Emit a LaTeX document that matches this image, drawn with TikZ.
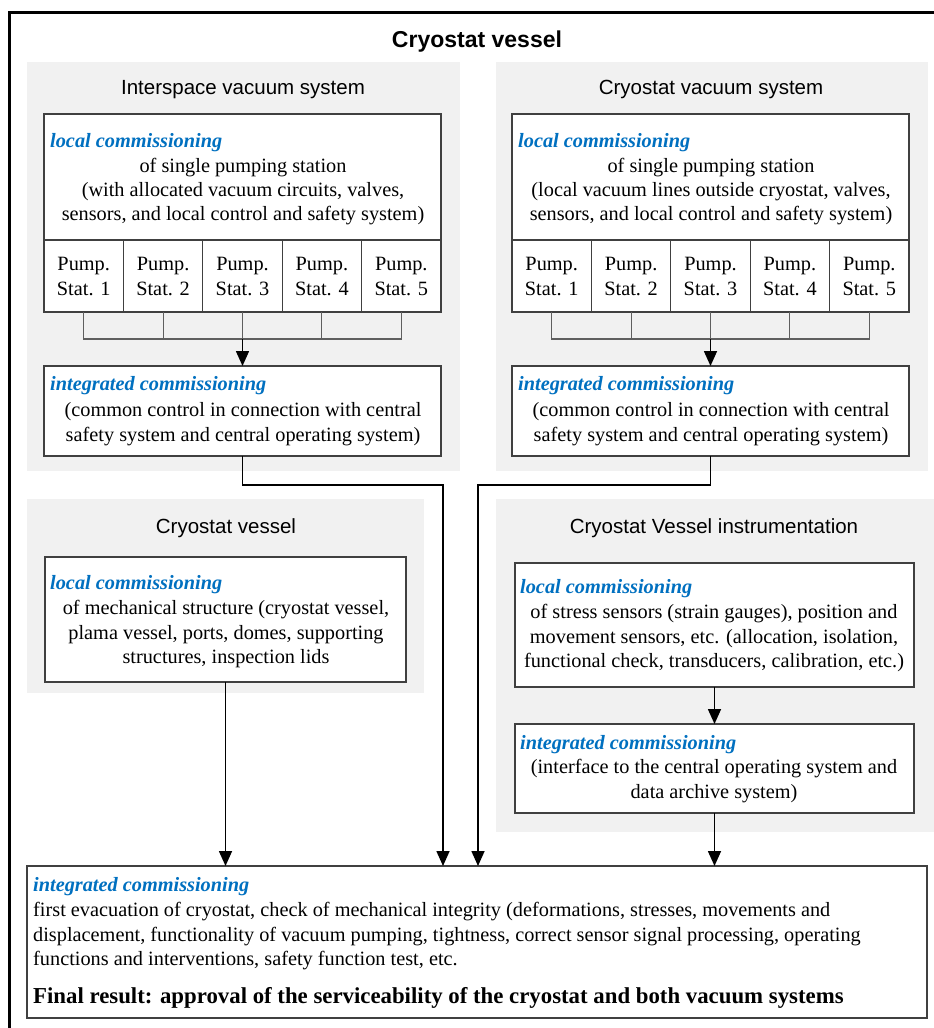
\documentclass[tikz,border=0pt]{standalone}
\usepackage{fontspec}
\setmainfont{Liberation Serif}
\setsansfont{Liberation Sans}
\usetikzlibrary{arrows.meta}
\definecolor{panelgray}{RGB}{241,241,241}
\definecolor{headblue}{RGB}{0,112,192}
\definecolor{boxline}{RGB}{64,64,64}
\definecolor{busline}{RGB}{95,95,95}
\begin{document}
\begin{tikzpicture}[x=1pt,y=-1pt,
 cpanel/.style={fill=panelgray, draw=none},
 cbox/.style={draw=boxline, fill=white, line width=1.1pt, inner sep=0pt, outer sep=0pt, anchor=north west},
 ccell/.style={cbox, minimum width=79.4pt, minimum height=72pt, align=center, font=\fontsize{20.3}{25}\selectfont, anchor=north west},
 chead/.style={anchor=base west, inner sep=0pt, text=headblue, font=\fontsize{20.3}{24}\selectfont\bfseries\itshape},
 cbody/.style={anchor=base, inner sep=0pt, font=\fontsize{20.3}{24}\selectfont},
 cbodyl/.style={cbody, anchor=base west},
 ptitle/.style={anchor=base, inner sep=0pt, font=\sffamily\fontsize{20.5}{24}\selectfont},
 cconn/.style={line width=1.6pt, draw=black},
 carr/.style={cconn, -{Triangle[length=15pt,width=13pt]}},
 cbus/.style={line width=1.1pt, draw=busline}]
\useasboundingbox (0,0) rectangle (934,1028);
\clip (0,0) rectangle (934,1028);
% outer frame
\draw[line width=3pt] (9,12) rectangle (1000,1100);
\node[anchor=base, inner sep=0pt, font=\sffamily\bfseries\fontsize{23}{27}\selectfont] (title) at (477,47) {Cryostat vessel};
% panels
\fill[cpanel] (27,62) rectangle (460,471);
\fill[cpanel] (496,62) rectangle (928,471);
\fill[cpanel] (27,499) rectangle (424,693);
\fill[cpanel] (496,499) rectangle (934,832);
\node[ptitle] (t1) at (243,94) {Interspace vacuum system};
\node[ptitle] (t2) at (711,94) {Cryostat vacuum system};
\node[ptitle] (t3) at (226,533) {Cryostat vessel};
\node[ptitle] (t4) at (714,533) {Cryostat Vessel instrumentation};
% ---------- left upper
\node[cbox, minimum width=397pt, minimum height=126pt] (L1) at (44,114) {};
\node[chead] (L1h) at (50,147) {local commissioning};
\node[cbody] (L1a) at (243,172) {of single pumping station};
\node[cbody] (L1b) at (243,196) {(with allocated vacuum circuits, valves,};
\node[cbody] (L1c) at (243,220) {sensors, and local control and safety system)};
\node[ccell] (A1) at (44,240) {Pump.\\Stat. 1};
\node[ccell] (A2) at (123.4,240) {Pump.\\Stat. 2};
\node[ccell] (A3) at (202.8,240) {Pump.\\Stat. 3};
\node[ccell] (A4) at (282.2,240) {Pump.\\Stat. 4};
\node[ccell] (A5) at (361.6,240) {Pump.\\Stat. 5};
\node[cbox, minimum width=397pt, minimum height=90pt] (I1) at (44,366) {};
\node[chead] (I1h) at (50,390) {integrated commissioning};
\node[cbody] (I1a) at (243,416) {(common control in connection with central};
\node[cbody] (I1b) at (243,441) {safety system and central operating system)};
\coordinate (ba) at (0,339);
\draw[cbus] (A1.south) -- (A1.south |- ba) -- (A5.south |- ba) -- (A5.south);
\draw[cbus] (A2.south) -- (A2.south |- ba);
\draw[cbus] (A4.south) -- (A4.south |- ba);
\draw[cbus] (A3.south) -- (A3.south |- ba);
\draw[carr] (A3.south |- ba) -- (I1.north);
% ---------- right upper
\node[cbox, minimum width=397pt, minimum height=126pt] (L2) at (512,114) {};
\node[chead] (L2h) at (518,147) {local commissioning};
\node[cbody] (L2a) at (711,172) {of single pumping station};
\node[cbody] (L2b) at (711,196) {(local vacuum lines outside cryostat, valves,};
\node[cbody] (L2c) at (711,220) {sensors, and local control and safety system)};
\node[ccell] (B1) at (512,240) {Pump.\\Stat. 1};
\node[ccell] (B2) at (591.4,240) {Pump.\\Stat. 2};
\node[ccell] (B3) at (670.8,240) {Pump.\\Stat. 3};
\node[ccell] (B4) at (750.2,240) {Pump.\\Stat. 4};
\node[ccell] (B5) at (829.6,240) {Pump.\\Stat. 5};
\node[cbox, minimum width=397pt, minimum height=90pt] (I2) at (512,366) {};
\node[chead] (I2h) at (518,390) {integrated commissioning};
\node[cbody] (I2a) at (711,416) {(common control in connection with central};
\node[cbody] (I2b) at (711,441) {safety system and central operating system)};
\draw[cbus] (B1.south) -- (B1.south |- ba) -- (B5.south |- ba) -- (B5.south);
\draw[cbus] (B2.south) -- (B2.south |- ba);
\draw[cbus] (B4.south) -- (B4.south |- ba);
\draw[cbus] (B3.south) -- (B3.south |- ba);
\draw[carr] (B3.south |- ba) -- (I2.north);
% ---------- left lower
\node[cbox, minimum width=361pt, minimum height=125pt] (L3) at (45,557) {};
\node[chead] (L3h) at (50,589) {local commissioning};
\node[cbody] (L3a) at (226,614) {of mechanical structure (cryostat vessel,};
\node[cbody] (L3b) at (226,639) {plama vessel, ports, domes, supporting};
\node[cbody] (L3c) at (226,663) {structures, inspection lids};
% ---------- right lower
\node[cbox, minimum width=399pt, minimum height=124pt] (L4) at (515,563) {};
\node[chead] (L4h) at (520,593) {local commissioning};
\node[cbody] (L4a) at (714,618) {of stress sensors (strain gauges), position and};
\node[cbody] (L4b) at (714,643) {movement sensors, etc. (allocation, isolation,};
\node[cbody] (L4c) at (714,667) {functional check, transducers, calibration, etc.)};
\node[cbox, minimum width=399pt, minimum height=89pt] (I4) at (515,724) {};
\node[chead] (I4h) at (520,749) {integrated commissioning};
\node[cbody] (I4a) at (714,773) {(interface to the central operating system and};
\node[cbody] (I4b) at (714,798) {data archive system)};
\draw[carr] (L4.south) -- (I4.north);
% ---------- final
\node[cbox, minimum width=900pt, minimum height=152pt] (F) at (27,866) {};
\node[chead] (Fh) at (33,891) {integrated commissioning};
\node[cbodyl] (Fa) at (33,916) {first evacuation of cryostat, check of mechanical integrity (deformations, stresses, movements and};
\node[cbodyl] (Fb) at (33,941) {displacement, functionality of vacuum pumping, tightness, correct sensor signal processing, operating};
\node[cbodyl] (Fc) at (33,965) {functions and interventions, safety function test, etc.};
\node[cbodyl, font=\fontsize{22.8}{27}\selectfont\bfseries] (Fd) at (33,1003) {Final result: approval of the serviceability of the cryostat and both vacuum systems};
% ---------- connectors to final
\coordinate (j1) at (443,485);
\coordinate (j2) at (478,485);
\draw[carr] (I1.south) |- (j1) -- (j1 |- F.north);
\draw[carr] (I2.south) |- (j2) -- (j2 |- F.north);
\draw[carr] (L3.south) -- (L3.south |- F.north);
\draw[carr] (I4.south) -- (I4.south |- F.north);
\end{tikzpicture}
\end{document}
